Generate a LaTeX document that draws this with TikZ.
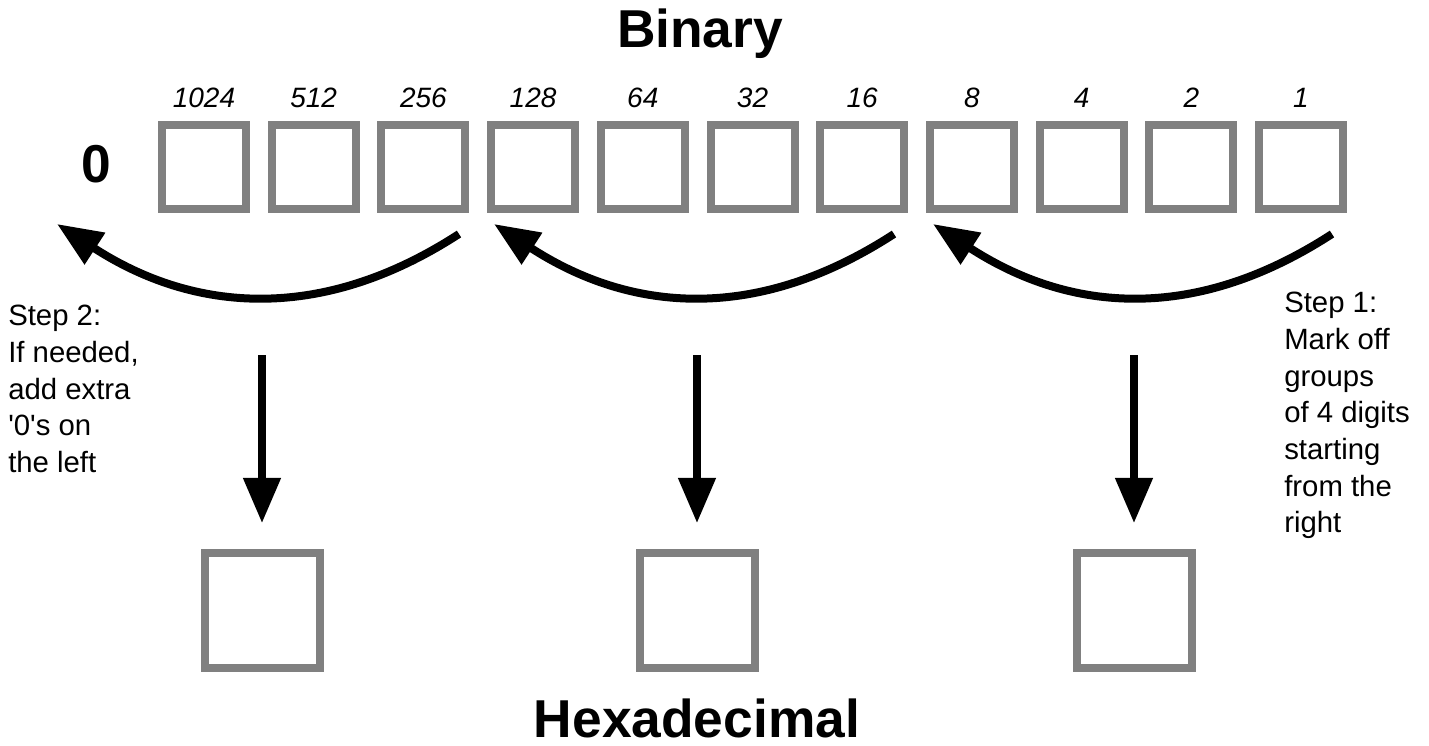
\documentclass[tikz,border=0pt]{standalone}
\usepackage{fontspec}
\setmainfont{Liberation Sans}
\usetikzlibrary{arrows.meta}

\begin{document}
\begin{tikzpicture}[x=0.75pt,y=-0.75pt,
  bitbox/.style={draw=gray,line width=6pt,minimum size=63pt,inner sep=0pt,outer sep=0pt},
  hexbox/.style={draw=gray,line width=6pt,minimum size=86.25pt,inner sep=0pt,outer sep=0pt},
  weight/.style={font=\fontsize{21}{25}\selectfont\itshape,anchor=base},
  title/.style={font=\fontsize{40}{48}\selectfont\bfseries,anchor=base,inner sep=0pt,text depth=0pt},
  note/.style={font=\fontsize{22}{27.5}\selectfont,align=left,anchor=north west,inner sep=0pt},
  fat/.style={line width=6pt,-{Triangle[length=34pt,width=27pt]}}]

\useasboundingbox (0,0) rectangle (1429,746);

\node[title] (bin) at (700,47) {Binary};							% top title
\node[title] (hex) at (697,737) {Hexadecimal};						% bottom title
\node[title] (pad) at (96,182) {0};								% padding zero

\foreach \i in {0,...,10}{									% binary digits with weights
  \pgfmathtruncatemacro{\w}{2^(10-\i)}
  \node[bitbox] (b\i) at (204+109.7*\i,166.5) {};
  \node[weight] (w\i) at (204+109.7*\i,107) {\w};
}

\foreach \j/\x in {1/262,2/697,3/1134}{							% hex digits and arrows down
  \node[hexbox] (h\j) at (\x,610) {};
  \coordinate (d\j) at (\x,355);
  \draw[fat,shorten >=22pt] (d\j) -- (h\j.north);
}

\coordinate (s1) at (459,234); \coordinate (t1) at (57,224);		% group 1 (left)
\coordinate (s2) at (894,234); \coordinate (t2) at (494,224);		% group 2
\coordinate (s3) at (1332,234); \coordinate (t3) at (933,224);		% group 3 (right)
\foreach \k in {1,2,3}
  \draw[fat] (s\k) .. controls +(-137,89) and +(137,89) .. (t\k);

\node[note] (step2) at (8,305) {Step 2:\\If needed,\\add extra\\\textquotesingle 0\textquotesingle s on\\the left};
\node[note] (step1) at (1284,292) {Step 1:\\Mark off\\groups\\of 4 digits\\starting\\from the\\right};

\end{tikzpicture}
\end{document}
